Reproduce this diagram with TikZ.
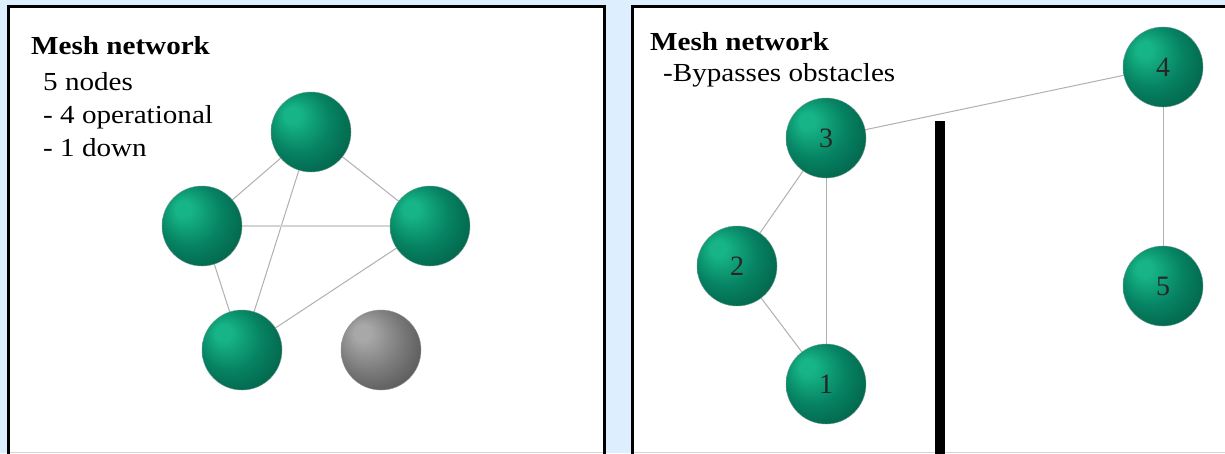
\documentclass[tikz,border=0pt]{standalone}
\usepackage{fontspec}
\setmainfont{Liberation Serif}

\definecolor{pagebg}{RGB}{221,238,255}
\definecolor{gHi}{RGB}{22,180,134}
\definecolor{gMid}{RGB}{6,130,98}
\definecolor{gDk}{RGB}{2,88,66}
\definecolor{sHi}{RGB}{168,168,168}
\definecolor{sMid}{RGB}{124,124,124}
\definecolor{sDk}{RGB}{76,76,76}
\definecolor{linkgray}{RGB}{176,176,176}
\definecolor{linklight}{RGB}{212,212,212}

% sphere shadings: circle edge sits at 25bp, light source up-left
\pgfdeclareradialshading{greenball}{\pgfqpoint{-13bp}{12bp}}{%
  color(0bp)=(gHi); color(5bp)=(gHi); color(20bp)=(gMid);
  color(38bp)=(gDk); color(50bp)=(gDk)}
\pgfdeclareradialshading{greyball}{\pgfqpoint{-13bp}{12bp}}{%
  color(0bp)=(sHi); color(5bp)=(sHi); color(20bp)=(sMid);
  color(38bp)=(sDk); color(50bp)=(sDk)}

\pgfdeclarelayer{paper}
\pgfdeclarelayer{links}
\pgfsetlayers{paper,links,main}

\newcommand{\widetext}[1]{\scalebox{1.12}[1]{#1}}

\tikzset{
  caption/.style={anchor=base west, inner sep=0pt,
    font=\fontsize{26}{26}\selectfont},
  sphere/.style={circle, minimum size=80pt, inner sep=0pt,
    shading=greenball, draw=gDk!60, line width=0.4pt,
    font=\fontsize{28}{28}\selectfont, text=black!85},
  deadsphere/.style={sphere, shading=greyball, draw=sDk!60},
  link/.style={draw=linkgray, line width=1pt},
  widelink/.style={draw=linklight, line width=2.5pt},
}

\begin{document}
\begin{tikzpicture}[x=1pt,y=-1pt]
\useasboundingbox (0,0) rectangle (1225,453);

\begin{pgfonlayer}{paper}
  \fill[pagebg] (0,0) rectangle (1225,453);
  % left and right panels
  \fill[white] (8.5,6.5) rectangle (604.5,460);
  \draw[line width=3pt] (8.5,460) -- (8.5,6.5) -- (604.5,6.5) -- (604.5,460);
  \fill[white] (632.5,6.5) rectangle (1230,460);
  \draw[line width=3pt] (632.5,460) -- (632.5,6.5) -- (1230,6.5);
  \draw[linklight, line width=1pt] (10,452.5) -- (603,452.5);
  \draw[linklight, line width=1pt] (634,452.5) -- (1225,452.5);
\end{pgfonlayer}

% ---- left panel: five nodes, one down ----
\node[caption] (ltitle) at (31,54) {\widetext{\textbf{Mesh network}}};
\node[caption] (lline1) at (43,90) {\widetext{5 nodes}};
\node[caption] (lline2) at (43,123) {\widetext{- 4 operational}};
\node[caption] (lline3) at (43,156) {\widetext{- 1 down}};

\node[sphere] (top)    at (311,132) {};
\node[sphere] (left)   at (202,226) {};
\node[sphere] (right)  at (430,226) {};
\node[sphere] (bottom) at (242,350) {};
\node[deadsphere] (down) at (381,350) {};

\begin{pgfonlayer}{links}
  \draw[link] (top) -- (left);
  \draw[link] (top) -- (right);
  \draw[link] (top) -- (bottom);
  \draw[link] (left) -- (bottom);
  \draw[link] (right) -- (bottom);
  \draw[widelink] (left) -- (right);
\end{pgfonlayer}

% ---- right panel: routing around an obstacle ----
\node[caption] (rtitle) at (650,50) {\widetext{\textbf{Mesh network}}};
\node[caption] (rline1) at (663,81) {\widetext{-Bypasses obstacles}};

\node[sphere] (n3) at (826,138) {3};
\node[sphere] (n4) at (1163,67) {4};
\node[sphere] (n2) at (737,266) {2};
\node[sphere] (n1) at (826,384) {1};
\node[sphere] (n5) at (1163,286) {5};

\begin{pgfonlayer}{links}
  \draw[link] (n3) -- (n4);
  \draw[link] (n3) -- (n2);
  \draw[link] (n3) -- (n1);
  \draw[link] (n2) -- (n1);
  \draw[link] (n4) -- (n5);
\end{pgfonlayer}

% obstacle wall
\fill[black] (935,121) rectangle (945,460);
\end{tikzpicture}
\end{document}
